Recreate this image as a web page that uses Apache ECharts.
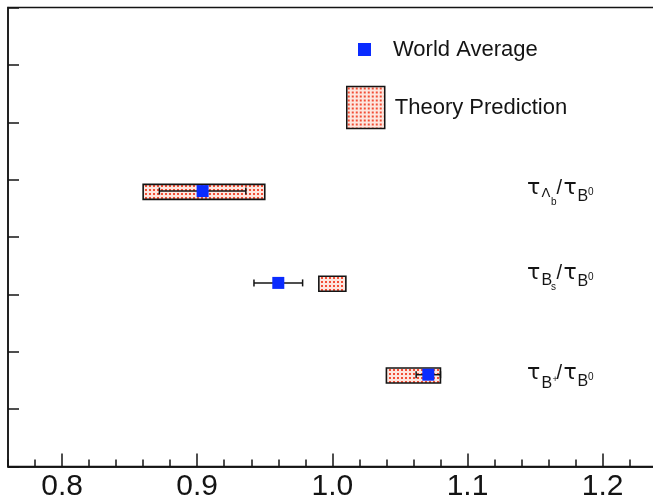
<!DOCTYPE html>
<html>
<head>
<meta charset="utf-8">
<script src="https://cdn.jsdelivr.net/npm/echarts@6/dist/echarts.min.js"></script>
<style>
  html, body { margin: 0; padding: 0; background: #fff; }
  #chart { width: 653px; height: 500px; }
</style>
</head>
<body>
<div id="chart"></div>
<script>
// b-hadron lifetime ratios relative to the B0: world averages and theory ranges
const ratioSymbols = ['Λ', 'B', 'B'];
const ratioSubs = ['b', 's', '+'];
const rowPos = [4.8, 3.2, 1.6];
const worldAvg = [0.904, 0.960, 1.071];
const worldAvgErr = [0.032, 0.018, 0.009];
const theoryLow = [0.86, 0.99, 1.04];
const theoryHigh = [0.95, 1.01, 1.08];
const xMajorTicks = [0.8, 0.9, 1.0, 1.1, 1.2];
const xRange = [0.76, 1.24];

const FONT = '"Liberation Sans", Arial, Helvetica, sans-serif';
const GREEK = '"DejaVu Sans", sans-serif';
const INK = '#141414';

// red dotted fill used for the theory bands
function makeDots() {
  const c = document.createElement('canvas');
  c.width = 4; c.height = 4;
  const g = c.getContext('2d');
  g.fillStyle = '#fde6df';
  g.fillRect(0, 0, 4, 4);
  g.fillStyle = '#f24e36';
  g.fillRect(1, 1, 2, 2);
  return c;
}
const dotFill = { image: makeDots(), repeat: 'repeat' };

const chart = echarts.init(document.getElementById('chart'), null, { renderer: 'canvas' });

// ratio label built from pieces: tau, subscript, sub-subscript, slash, tau, B, superscript 0
function ratioLabel(i, x, y) {
  const lambda = ratioSymbols[i] === 'Λ';
  const plus = ratioSubs[i] === '+';
  const parts = [
    { t: 'τ', s: 22, f: GREEK, dx: 0, dy: -1 },
    { t: ratioSymbols[i], s: lambda ? 13 : 16, f: lambda ? GREEK : FONT,
      dx: 14.5, dy: lambda ? 5 : (plus ? 10 : 6.5) },
    { t: ratioSubs[i], s: plus ? 9 : 10, f: FONT, dx: plus ? 25.5 : 24, dy: plus ? 5.5 : 13.5 },
    { t: '/', s: 20, f: FONT, dx: 29.5, dy: -0.5 },
    { t: 'τ', s: 22, f: GREEK, dx: 36.5, dy: -1 },
    { t: 'B', s: 16, f: FONT, dx: 50.5, dy: 8 },
    { t: '0', s: 10, f: FONT, dx: 61, dy: 3 }
  ];
  return {
    type: 'group', x: x, y: y, silent: true,
    children: parts.map(p => ({
      type: 'text', x: p.dx, y: p.dy,
      style: { text: p.t, fontSize: p.s, fontFamily: p.f, fill: INK,
               align: 'left', verticalAlign: 'middle' }
    }))
  };
}

const labelY = [189, 274, 374];

const axisInk = { color: INK, width: 1.5 };

const option = {
  backgroundColor: '#fff',
  animation: false,
  grid: {
    left: 8, top: 7.5, right: -3.7, bottom: 33.5,
    containLabel: false, outerBoundsMode: 'none',
    show: true, borderColor: INK, borderWidth: 1.5, backgroundColor: 'transparent'
  },
  legend: [
    {
      data: [{ name: 'World Average', icon: 'rect' }],
      left: 358, top: 36, padding: 0, selectedMode: false,
      itemWidth: 13, itemHeight: 13,
      textStyle: { fontSize: 22, fontFamily: FONT, color: INK, lineHeight: 24, padding: [3, 0, 0, 17] }
    },
    {
      data: [{ name: 'Theory Prediction', icon: 'rect' }],
      left: 346, top: 85.7, padding: 0, selectedMode: false,
      itemWidth: 38, itemHeight: 42,
      itemStyle: { color: dotFill, borderColor: INK, borderWidth: 1.5 },
      textStyle: { fontSize: 22, fontFamily: FONT, color: INK, padding: [2, 0, 0, 5] }
    }
  ],
  xAxis: [
    {
      type: 'value', min: xRange[0], max: xRange[1], interval: 0.02,
      axisLine: { show: true, lineStyle: axisInk },
      axisTick: { show: true, inside: true, length: 7, lineStyle: axisInk },
      axisLabel: { show: false },
      splitLine: { show: false }
    },
    {
      type: 'value', min: xRange[0], max: xRange[1], position: 'bottom', offset: 0,
      axisLine: { show: true, onZero: false, lineStyle: axisInk },
      axisTick: { show: true, inside: true, length: 13, customValues: xMajorTicks, lineStyle: axisInk },
      axisLabel: { show: true, customValues: xMajorTicks, formatter: v => v.toFixed(1),
                   fontSize: 30, fontFamily: FONT, color: INK, margin: 5.5 },
      splitLine: { show: false }
    }
  ],
  yAxis: {
    type: 'value', min: 0, max: 8, interval: 1,
    axisLine: { show: true, lineStyle: axisInk },
    axisTick: { show: true, inside: true, length: 11, lineStyle: axisInk },
    axisLabel: { show: false },
    splitLine: { show: false }
  },
  series: [
    {
      name: 'Theory Prediction',
      type: 'custom',
      xAxisIndex: 0,
      itemStyle: { color: dotFill, borderColor: INK, borderWidth: 1.5 },
      encode: { x: [0, 1], y: 2 },
      data: rowPos.map((y, i) => [theoryLow[i], theoryHigh[i], y]),
      renderItem: (params, api) => {
        const a = api.coord([api.value(0), api.value(2)]);
        const b = api.coord([api.value(1), api.value(2)]);
        const h = 15;
        return {
          type: 'rect',
          shape: { x: a[0], y: a[1] - h / 2 + 0.8, width: b[0] - a[0], height: h },
          style: { fill: dotFill, stroke: INK, lineWidth: 1.6 }
        };
      },
      z: 2
    },
    {
      type: 'custom',
      xAxisIndex: 0,
      encode: { x: [0, 1], y: 2 },
      data: rowPos.map((y, i) => [worldAvg[i] - worldAvgErr[i], worldAvg[i] + worldAvgErr[i], y]),
      renderItem: (params, api) => {
        const a = api.coord([api.value(0), api.value(2)]);
        const b = api.coord([api.value(1), api.value(2)]);
        const cap = 3.5;
        const st = { stroke: INK, lineWidth: 1.5 };
        return {
          type: 'group',
          children: [
            { type: 'line', shape: { x1: a[0], y1: a[1], x2: b[0], y2: b[1] }, style: st },
            { type: 'line', shape: { x1: a[0], y1: a[1] - cap, x2: a[0], y2: a[1] + cap }, style: st },
            { type: 'line', shape: { x1: b[0], y1: b[1] - cap, x2: b[0], y2: b[1] + cap }, style: st }
          ]
        };
      },
      silent: true,
      z: 3
    },
    {
      name: 'World Average',
      type: 'scatter',
      xAxisIndex: 0,
      symbol: 'rect',
      symbolSize: 12,
      itemStyle: { color: '#0a2bff', opacity: 1 },
      data: rowPos.map((y, i) => [worldAvg[i], y]),
      z: 4
    }
  ],
  graphic: labelY.map((y, i) => ratioLabel(i, 527, y))
};

chart.setOption(option);
</script>
</body>
</html>
